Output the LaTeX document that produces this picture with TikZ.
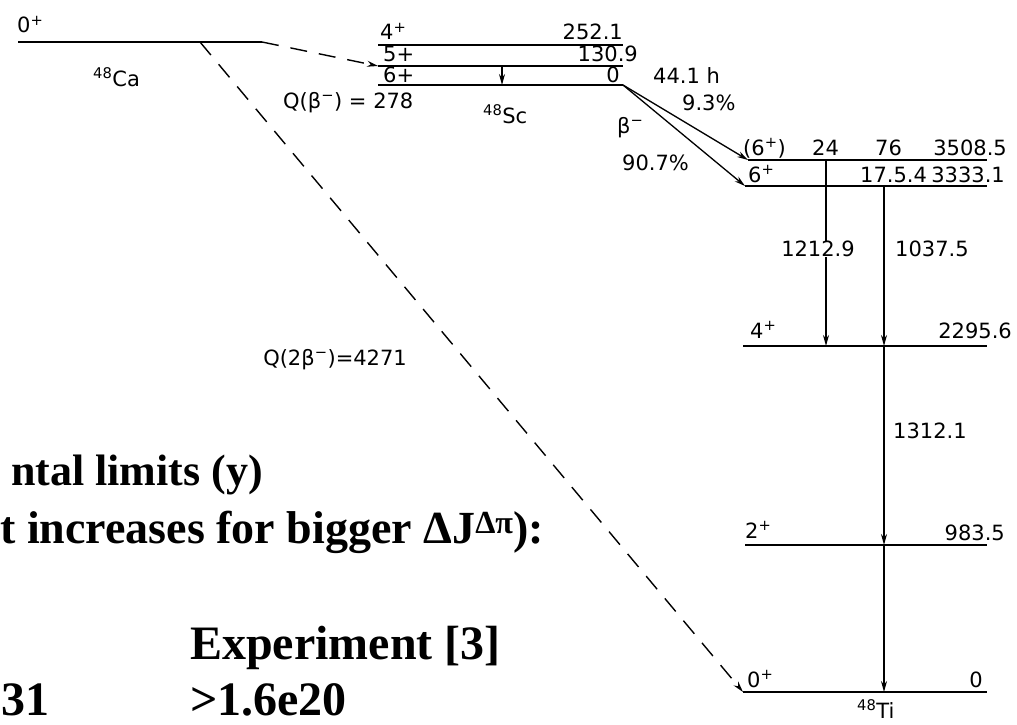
\documentclass[tikz,border=0pt]{standalone}
\usepackage{fontspec}
\setmainfont{DejaVu Sans}
\newfontfamily\slidefont{Liberation Serif}
\usetikzlibrary{arrows.meta}
\begin{document}
\begin{tikzpicture}[x=1pt,y=-1pt,
  level/.style={line width=1.6pt},
  gam/.style={line width=1.3pt,-{Stealth[length=11pt,width=6pt]}},
  feed/.style={line width=1.4pt,dash pattern=on 17pt off 12pt,-{Stealth[length=11pt,width=6pt]}},
  lbl/.style={font=\fontsize{21}{23}\selectfont,inner sep=0pt},
  big/.style={font=\slidefont\bfseries\fontsize{46}{50}\selectfont,inner sep=0pt}]
\useasboundingbox (0,0) rectangle (1017,725);

% 48Ca
\coordinate (caL) at (18,42);
\coordinate (caR) at (262,42);
\coordinate (caD) at (200,42);
\draw[level] (caL) -- (caR);
\node[lbl,anchor=base west] (caspin) at (17,33) {0\textsuperscript{+}};
\node[lbl,anchor=base west] (caname) at (93,86) {\textsuperscript{48}Ca};

% 48Sc
\coordinate (sc4L) at (378,45);  \coordinate (sc4R) at (623,45);
\coordinate (sc5L) at (378,66);  \coordinate (sc5R) at (623,66);
\coordinate (sc6L) at (378,85);  \coordinate (sc6R) at (623,85);
\draw[level] (sc4L) -- (sc4R);
\draw[level] (sc5L) -- (sc5R);
\draw[level] (sc6L) -- (sc6R);
\node[lbl,anchor=base west] (sc4spin) at (380,40) {4\textsuperscript{+}};
\node[lbl,anchor=base east] (sc4en) at (623,40) {252.1};
\node[lbl,anchor=base west] (sc5spin) at (383,62) {5+};
\node[lbl,anchor=base east] (sc5en) at (638,62) {130.9};
\node[lbl,anchor=base west] (sc6spin) at (383,82) {6+};
\node[lbl,anchor=base east] (sc6en) at (620,82) {0};
\coordinate (scgA) at (502,66);
\coordinate (scgB) at (502,85);
\draw[gam] (scgA) -- (scgB);
\node[lbl,anchor=base west] (qbeta) at (283,108) {Q(β\textsuperscript{−}) = 278};
\node[lbl,anchor=base west] (scname) at (483,123) {\textsuperscript{48}Sc};

% double beta and single beta feeding
\draw[feed] (caR) -- (sc5L);
\coordinate (ti0L) at (743,692);
\coordinate (ti0R) at (987,692);
\draw[feed] (caD) -- (ti0L);
\node[lbl,anchor=base east] (qdbeta) at (407,365) {Q(2β\textsuperscript{−})=4271};

% beta branches
\coordinate (ti35L) at (748,160); \coordinate (ti35R) at (987,160);
\coordinate (ti33L) at (745,186); \coordinate (ti33R) at (987,186);
\draw[gam] (sc6R) -- (ti35L);
\draw[gam] (sc6R) -- (ti33L);
\node[lbl,anchor=base west] (halflife) at (653,83) {44.1 h};
\node[lbl,anchor=base west] (br1) at (682,110) {9.3\%};
\node[lbl,anchor=base west] (betam) at (617,133) {β\textsuperscript{−}};
\node[lbl,anchor=base west] (br2) at (622,170) {90.7\%};

% 48Ti
\coordinate (ti22L) at (743,346); \coordinate (ti22R) at (987,346);
\coordinate (ti9L) at (745,545);  \coordinate (ti9R) at (987,545);
\draw[level] (ti35L) -- (ti35R);
\draw[level] (ti33L) -- (ti33R);
\draw[level] (ti22L) -- (ti22R);
\draw[level] (ti9L) -- (ti9R);
\draw[level] (ti0L) -- (ti0R);
\node[lbl,anchor=base west] (ti35spin) at (743,155) {(6\textsuperscript{+})};
\node[lbl,anchor=base west] (ti35a) at (812,155) {24};
\node[lbl,anchor=base west] (ti35b) at (875,155) {76};
\node[lbl,anchor=base east] (ti35en) at (1007,155) {3508.5};
\node[lbl,anchor=base west] (ti33spin) at (748,182) {6\textsuperscript{+}};
\node[lbl,anchor=base west] (ti33a) at (860,182) {17.5.4};
\node[lbl,anchor=base east] (ti33en) at (1005,182) {3333.1};
\node[lbl,anchor=base west] (ti22spin) at (750,338) {4\textsuperscript{+}};
\node[lbl,anchor=base east] (ti22en) at (1012,338) {2295.6};
\node[lbl,anchor=base west] (ti9spin) at (745,538) {2\textsuperscript{+}};
\node[lbl,anchor=base east] (ti9en) at (1005,540) {983.5};
\node[lbl,anchor=base west] (ti0spin) at (747,687) {0\textsuperscript{+}};
\node[lbl,anchor=base east] (ti0en) at (983,687) {0};
\node[lbl,anchor=base west] (tiname) at (857,718) {\textsuperscript{48}Ti};

% gamma cascade
\coordinate (gA) at (826,160);
\coordinate (gB) at (826,346);
\node[lbl] (g1) at (818,249) {1212.9};
\draw[line width=1.3pt] (gA) -- (g1.north -| gA);
\draw[gam] (g1.south -| gA) -- (gB);
\coordinate (gC) at (884,186);
\coordinate (gD) at (884,346);
\coordinate (gE) at (884,545);
\coordinate (gF) at (884,692);
\draw[gam] (gC) -- (gD);
\draw[gam] (gD) -- (gE);
\draw[gam] (gE) -- (gF);
\node[lbl,anchor=base west] (g2) at (895,256) {1037.5};
\node[lbl,anchor=base west] (g3) at (893,438) {1312.1};

% slide text
\node[big,anchor=base east,font=\slidefont\bfseries\fontsize{44}{50}\selectfont] (lim1) at (263,485) {ntal limits (y)};
\node[big,anchor=base west] (lim2) at (0,543) {t increases for bigger ΔJ\textsuperscript{Δπ}):};
\node[big,anchor=base west,font=\slidefont\bfseries\fontsize{48}{50}\selectfont] (exphead) at (190,659) {Experiment [3]};
\node[big,anchor=base west,font=\slidefont\bfseries\fontsize{48}{50}\selectfont] (expval) at (190,715) {>1.6e20};
\node[big,anchor=base west,font=\slidefont\bfseries\fontsize{48}{50}\selectfont] (thval) at (1,715) {31};
\end{tikzpicture}
\end{document}
